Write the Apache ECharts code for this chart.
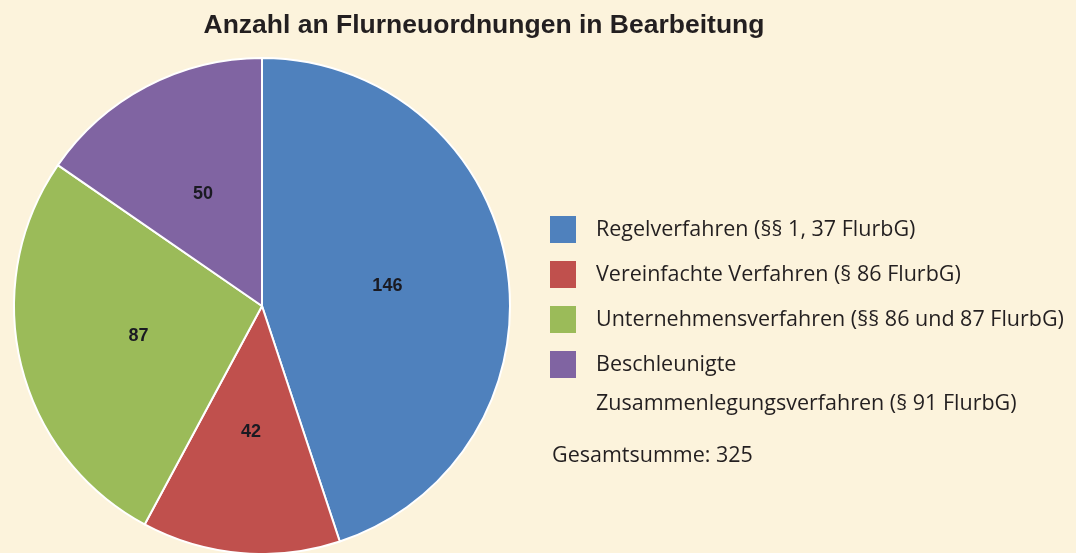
<!DOCTYPE html>
<html>
<head>
<meta charset="utf-8">
<script src="https://cdn.jsdelivr.net/npm/echarts@6/dist/echarts.min.js"></script>
<style>
  html, body { margin: 0; padding: 0; background: #fcf3dc; }
  #chart { width: 1076px; height: 553px; }
</style>
</head>
<body>
<div id="chart"></div>
<script>
const categories = [
  'Regelverfahren (§§ 1, 37 FlurbG)',
  'Vereinfachte Verfahren (§ 86 FlurbG)',
  'Unternehmensverfahren (§§ 86 und 87 FlurbG)',
  'Beschleunigte'
]
const values = [146, 42, 87, 50]
const colors = ['#4f81bd', '#c0504d', '#9bbb59', '#8064a2']
const total = values.reduce((a, b) => a + b, 0)

const chart = echarts.init(document.getElementById('chart'))

chart.setOption({
  backgroundColor: '#fcf3dc',
  title: {
    text: 'Anzahl an Flurneuordnungen in Bearbeitung',
    left: 479,
    top: 7,
    textAlign: 'center',
    textStyle: { fontFamily: 'Liberation Sans', fontSize: 26.5, fontWeight: 'bold', color: '#231f20' },
  },
  legend: {
    orient: 'vertical',
    left: 550,
    top: 216,
    padding: 0,
    itemWidth: 26,
    itemHeight: 27,
    itemGap: 18,
    icon: 'rect',
    selectedMode: false,
    data: categories,
    itemStyle: { borderWidth: 0 },
    textStyle: { fontFamily: 'Open Sans', fontSize: 21.5, color: '#231f20', padding: [3, 0, 0, 15] },
  },
  graphic: [
    {
      type: 'text',
      left: 596,
      top: 393,
      style: { text: 'Zusammenlegungsverfahren (§ 91 FlurbG)', font: '21.5px "Open Sans"', fill: '#231f20' },
    },
    {
      type: 'text',
      left: 552,
      top: 445,
      style: { text: 'Gesamtsumme: ' + total, font: '21.5px "Open Sans"', fill: '#231f20' },
    },
  ],
  series: [{
    type: 'pie',
    center: [262, 306],
    radius: 248,
    startAngle: 90,
    clockwise: true,
    silent: true,
    animation: false,
    color: colors,
    itemStyle: { borderColor: '#fff', borderWidth: 2 },
    label: {
      show: true,
      position: 'inside',
      formatter: '{c}',
      fontFamily: 'Liberation Sans',
      fontSize: 18,
      fontWeight: 'bold',
      color: '#1a1a22',
      padding: [6, 0, 0, 0],
    },
    labelLine: { show: false },
    data: categories.map((name, i) => ({ name, value: values[i] })),
  }],
})
</script>
</body>
</html>
